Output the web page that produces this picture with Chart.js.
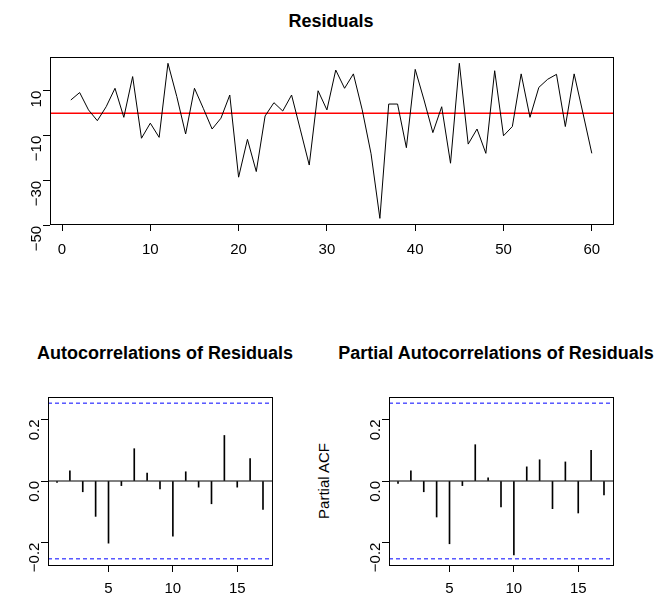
<!DOCTYPE html>
<html>
<head>
<meta charset="utf-8">
<script src="https://cdn.jsdelivr.net/npm/chart.js@4"></script>
<style>
  body { margin: 0; background: #fff; width: 655px; height: 600px; overflow: hidden; position: relative;
         font-family: "Liberation Sans", Arial, sans-serif; }
  canvas { position: absolute; }
  .title { position: absolute; font-weight: bold; font-size: 18px; white-space: nowrap; transform: translateX(-50%); }
  .ylab { position: absolute; font-size: 15px; transform: translate(-50%, -50%) rotate(-90deg); white-space: nowrap; }
</style>
</head>
<body>
<div class="title" style="left:331px; top:11px;">Residuals</div>
<div class="title" style="left:165px; top:343px;">Autocorrelations of Residuals</div>
<div class="title" style="left:496px; top:343px;">Partial Autocorrelations of Residuals</div>
<div class="ylab" style="left:323px; top:481px;">Partial ACF</div>
<!-- plot area = canvas offset + (60, 20) -->
<canvas id="resid" style="left:-10px; top:37px;" width="643" height="247"></canvas>
<canvas id="acf" style="left:-12px; top:377px;" width="304" height="248"></canvas>
<canvas id="pacf" style="left:329px; top:377px;" width="304" height="248"></canvas>
<script>
// Residual series, t = 1..60
const residuals = [5.9, 9.2, 1.5, -3.3, 2.9, 11.1, -1.8, 16.3, -11.1, -4.4,
    -10.7, 22.2, 7.4, -9.2, 11.1, 2.2, -7, -2.2, 8.1, -28.4,
    -11.6, -25.9, -1.2, 4.7, 1, 8.1, -7.4, -23, 10, 1.5,
    19.2, 11.1, 17.5, 1.5, -18, -46.7, 4.1, 4.1, -15.3, 19.5,
    5.9, -8.6, 2.9, -22.2, 22.2, -13.7, -7, -17.8, 18.9, -10,
    -5.9, 17.5, -1.8, 11.5, 15.1, 17.3, -5.9, 17.5, 0, -17.8];
const lags = [1, 2, 3, 4, 5, 6, 7, 8, 9, 10, 11, 12, 13, 14, 15, 16, 17];
const acfValues = [-0.005, 0.033, -0.035, -0.115, -0.202, -0.015, 0.105, 0.026, -0.026, -0.179,
    0.03, -0.02, -0.074, 0.148, -0.02, 0.073, -0.092];
const pacfValues = [-0.008, 0.033, -0.035, -0.117, -0.204, -0.015, 0.118, 0.01, -0.084, -0.24,
    0.046, 0.069, -0.09, 0.062, -0.104, 0.1, -0.045];
const confBound = 0.253;
const residTicks = [10, -10, -30, -50];
const residXTicks = [0, 10, 20, 30, 40, 50, 60];
const acfYTicks = [-0.2, 0, 0.2];
const lagTicks = [5, 10, 15];

Chart.defaults.font.family = '"Liberation Sans", Arial, sans-serif';
Chart.defaults.font.size = 15;
Chart.defaults.color = '#000';
Chart.defaults.animation = false;

// draw a box round the plot area, like R
const boxPlugin = {
    id: 'box',
    afterDraw(chart) {
        const a = chart.chartArea, c = chart.ctx;
        c.save();
        c.strokeStyle = '#000';
        c.lineWidth = 1;
        c.strokeRect(Math.round(a.left) + 0.5, Math.round(a.top) + 0.5,
            Math.round(a.right - a.left), Math.round(a.bottom - a.top));
        c.restore();
    }
};

function fixedTicks(values) {
    return function(scale) {
        scale.ticks = values.map(v => ({ value: v }));
    };
}

function axes(xmin, xmax, xticks, ymin, ymax, yticks, yfmt, xpad) {
    return {
        x: {
            type: 'linear', min: xmin, max: xmax, offset: false,
            afterBuildTicks: fixedTicks(xticks),
            afterFit(s) { s.height = 40; },
            grid: { drawOnChartArea: false, tickLength: 7, color: '#000', offset: false },
            border: { display: false },
            ticks: { padding: xpad, maxRotation: 0 }
        },
        y: {
            type: 'linear', min: ymin, max: ymax,
            afterBuildTicks: fixedTicks(yticks),
            afterFit(s) { s.width = 40; },
            grid: { drawOnChartArea: false, tickLength: 7, color: '#000' },
            border: { display: false },
            ticks: { minRotation: 90, maxRotation: 90, padding: 6, callback: yfmt }
        }
    };
}

new Chart(document.getElementById('resid'), {
    type: 'line',
    data: {
        datasets: [{
            data: residuals.map((v, i) => ({ x: i + 1, y: v })),
            borderColor: '#000', borderWidth: 1, pointRadius: 0, tension: 0
        }, {
            data: [{ x: -1.36, y: 0 }, { x: 62.4, y: 0 }],
            borderColor: '#ff0000', borderWidth: 1.6, pointRadius: 0
        }]
    },
    options: {
        responsive: false,
        layout: { padding: 20 },
        plugins: { legend: { display: false }, tooltip: { enabled: false } },
        scales: axes(-1.36, 62.4, residXTicks, -49.2, 25, residTicks, v => v < 0 ? '\u2212' + Math.abs(v) : v, 10)
    },
    plugins: [boxPlugin]
});

function corrChart(id, values) {
    const fmt = v => v === 0 ? '0.0' : (v < 0 ? '\u2212' + Math.abs(v).toFixed(1) : v.toFixed(1));
    new Chart(document.getElementById(id), {
        type: 'scatter',
        data: {
            datasets: [{
                type: 'bar',
                data: lags.map((l, i) => ({ x: l, y: values[i] })),
                backgroundColor: '#000', barThickness: 1, borderWidth: 0, grouped: false
            }, {
                type: 'line',
                data: [{ x: 0.3, y: confBound }, { x: 17.7, y: confBound }],
                borderColor: '#0000ff', borderWidth: 1, borderDash: [4, 3], pointRadius: 0
            }, {
                type: 'line',
                data: [{ x: 0.3, y: -confBound }, { x: 17.7, y: -confBound }],
                borderColor: '#0000ff', borderWidth: 1, borderDash: [4, 3], pointRadius: 0
            }, {
                type: 'line',
                data: [{ x: 0.3, y: 0 }, { x: 17.7, y: 0 }],
                borderColor: '#000', borderWidth: 1, pointRadius: 0
            }]
        },
        options: {
            responsive: false,
            layout: { padding: 20 },
            plugins: { legend: { display: false }, tooltip: { enabled: false } },
            scales: axes(0.3, 17.7, lagTicks, -0.273, 0.273, acfYTicks, fmt, 8)
        },
        plugins: [boxPlugin]
    });
}

corrChart('acf', acfValues);
corrChart('pacf', pacfValues);
</script>
</body>
</html>
